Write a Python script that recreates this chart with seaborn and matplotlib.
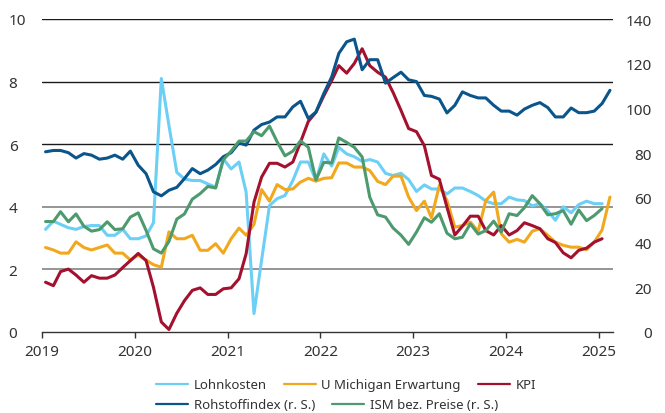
import numpy as np
import pandas as pd
import matplotlib
matplotlib.use("Agg")
import matplotlib.pyplot as plt
import matplotlib.dates as mdates
from matplotlib.lines import Line2D
import seaborn as sns

# ---- data (monthly, Jan 2019 onwards) ----
lohnkosten = [3.28, 3.54, 3.44, 3.33, 3.28, 3.37, 3.4, 3.4, 3.09, 3.09, 3.28, 2.98, 2.98, 3.07, 3.49,
              8.1, 6.6, 5.1,
              4.89, 4.84, 4.84, 4.73, 4.63, 5.53, 5.21, 5.43, 4.47, 0.59, 2.3, 4.04, 4.26, 4.36, 4.84, 5.43,
              5.43, 4.84, 5.69, 5.3,
              5.9, 5.69, 5.6, 5.45, 5.51, 5.43, 5.07, 5.0, 5.07, 4.87, 4.49, 4.7, 4.57, 4.57, 4.41, 4.6,
              4.6, 4.49, 4.36,
              4.18, 4.1, 4.1, 4.31, 4.22, 4.2, 4.03, 4.1, 3.87, 3.57, 4.0, 3.81, 4.07, 4.18, 4.1, 4.1]
michigan = [2.7, 2.62, 2.52, 2.52, 2.88, 2.7, 2.62, 2.7, 2.78, 2.52, 2.52, 2.3, 2.45, 2.3, 2.15, 2.07, 3.2, 2.98,
            2.98, 3.09, 2.61, 2.61, 2.82, 2.52, 2.98, 3.32, 3.09, 3.44, 4.55, 4.18, 4.71, 4.55, 4.57, 4.79,
            4.91, 4.82, 4.91,
            4.93, 5.4, 5.4, 5.27, 5.27, 5.16, 4.81, 4.71, 4.98, 4.98, 4.31, 3.88, 4.18, 3.65, 4.68, 4.2,
            3.35, 3.4, 3.51, 3.22,
            4.2, 4.47, 3.14, 2.87, 2.96, 2.87, 3.22, 3.3, 3.09, 2.87, 2.77, 2.71, 2.71, 2.63, 2.87, 3.26, 4.31]
kpi = [1.59, 1.48, 1.93, 2.01, 1.82, 1.59, 1.8, 1.72, 1.72, 1.82, 2.06, 2.28, 2.51, 2.28, 1.43, 0.32, 0.08, 0.6,
       1.0, 1.33, 1.41, 1.2, 1.2, 1.38, 1.41, 1.7, 2.5, 4.15, 4.95, 5.39, 5.39, 5.27, 5.43, 6.06, 6.73, 7.02,
       7.55, 8.03,
       8.51, 8.27, 8.58, 9.05, 8.51, 8.3, 8.14, 7.65, 7.08, 6.5, 6.4, 5.95, 5.0, 4.88, 3.99, 3.1, 3.38, 3.7, 3.7,
       3.24, 3.1, 3.4, 3.1, 3.24, 3.49, 3.4, 3.3, 2.98, 2.86, 2.53, 2.37, 2.61, 2.68, 2.87, 2.98]
rohstoffindex = [80.6, 81.2, 81.2, 80.2, 77.8, 79.8, 79.1, 77.3, 77.8, 79.1,
                 77.3, 80.9, 74.6, 70.8, 62.7, 60.9, 63.4, 64.7, 68.6, 73.1,
                 70.8, 72.4, 74.9, 78.4, 80.2, 84.6, 83.6, 90.3, 92.8, 93.9,
                 96.2, 96.2, 100.7, 103.2, 95.5, 98.4, 106.7,
                 114.1, 124.6, 129.8, 131.0, 117.3, 121.8, 121.8, 111.3, 113.8, 116.2,
                 112.8, 112.0, 105.8, 105.4, 104.2, 98.0, 101.4, 107.4, 105.8, 104.7,
                 104.7, 101.4, 98.8, 98.8, 97.0, 99.7, 101.4, 102.6, 100.4, 96.2,
                 96.2, 100.2, 98.1, 98.1, 98.8, 102.2, 108.1]
ism_preise = [49.4, 49.4, 53.8, 49.3, 52.8, 47.3, 45.1, 45.8, 49.3, 45.8, 46.2, 51.4, 53.3, 45.4, 37.2, 35.3,
              40.5, 50.5, 52.8,
              59.4, 61.9, 65.1, 64.4, 77.0, 80.9, 85.4, 85.4, 89.6, 87.8, 92.1, 85.1, 78.8, 80.9, 85.5, 82.6,
              68.0, 75.9, 75.6,
              86.8, 84.8, 82.6, 78.3, 60.3, 52.4, 51.4, 46.5, 43.3, 39.2, 44.7, 51.1, 49.1, 52.9, 44.2, 41.7,
              42.4, 48.4, 43.8,
              45.4, 49.6, 44.7, 52.9, 52.1, 55.6, 61.0, 57.4, 52.4, 52.9, 54.3, 48.2, 54.6, 49.8, 52.1, 55.2]

left_ticks = [0, 2, 4, 6, 8, 10]
right_ticks = [0, 20, 40, 60, 80, 100, 120, 140]
year_labels = ["2019", "2020", "2021", "2022", "2023", "2024", "2025"]

labels = ["Lohnkosten", "U Michigan Erwartung", "KPI", "Rohstoffindex (r. S.)", "ISM bez. Preise (r. S.)"]
colors = ["#6CCFF6", "#F2A81D", "#A3112E", "#0A558C", "#4C9A6E"]

dates = pd.date_range("2019-01-01", periods=80, freq="MS") + pd.Timedelta(days=14)

sns.set_theme(style="white")
plt.rcParams["font.family"] = ["Noto Sans", "DejaVu Sans"]

W, H = 665, 414
fig = plt.figure(figsize=(W / 100, H / 100), dpi=100)
ax = fig.add_axes([42 / W, 1 - 333 / H, (613 - 42) / W, (333 - 20) / H])
ax2 = ax.twinx()

lw = 2.2
left_series = [lohnkosten, michigan, kpi]
right_series = [rohstoffindex, ism_preise]
for vals, c in zip(left_series, colors[:3]):
    sns.lineplot(x=dates[:len(vals)], y=vals, ax=ax, color=c, linewidth=lw)
for vals, c in zip(right_series, colors[3:]):
    sns.lineplot(x=dates[:len(vals)], y=vals, ax=ax2, color=c, linewidth=lw)

ax.set_ylim(0, 10)
ax2.set_ylim(0, 140)
ax.set_xlim(pd.Timestamp("2019-01-01"), pd.Timestamp("2025-02-27"))

# y axes
ax.set_yticks(left_ticks)
ax.set_yticklabels([str(t) for t in left_ticks])
ax2.set_yticks(right_ticks)
ax2.set_yticklabels([str(t) for t in right_ticks])
ax.tick_params(axis="y", length=0, pad=24, labelsize=11, labelcolor="#333333")
ax2.tick_params(axis="y", length=0, pad=28, labelsize=11, labelcolor="#333333")
for lbl in ax.get_yticklabels():
    lbl.set_horizontalalignment("left")
for lbl in ax2.get_yticklabels():
    lbl.set_horizontalalignment("right")

# gridlines from left axis
ax.yaxis.grid(True)
ax2.yaxis.grid(False)
ax.xaxis.grid(False)
ax.set_axisbelow(True)
for t, gl in zip(left_ticks, ax.get_ygridlines()):
    if t == 0:
        gl.set_visible(False)
    elif t >= 6:
        gl.set_color("#1a1a1a")
        gl.set_linewidth(1.0)
    else:
        gl.set_color("#8c8c8c")
        gl.set_linewidth(1.3)

# x axis
ax.xaxis.set_major_locator(mdates.YearLocator())
ax.xaxis.set_major_formatter(mdates.DateFormatter("%Y"))
ax.tick_params(axis="x", direction="out", length=4, width=1, color="#333333",
               pad=5, labelsize=11, labelcolor="#333333", bottom=True)

for a in (ax, ax2):
    for s in ("left", "right", "top"):
        a.spines[s].set_visible(False)
    a.set_xlabel("")
    a.set_ylabel("")
ax.spines["bottom"].set_color("#333333")
ax.spines["bottom"].set_linewidth(1.0)
ax2.spines["bottom"].set_visible(False)

# legend: two rows in flow layout
handles = [Line2D([0], [0], color=c, lw=1.6) for c in colors]
common = dict(frameon=False, fontsize=9.5, handlelength=2.4, handletextpad=0.45,
              columnspacing=1.3, borderpad=0, borderaxespad=0, labelcolor="#333333")
leg1 = fig.legend(handles[:3], labels[:3], loc="center left",
                  bbox_to_anchor=(156 / W, 1 - 386 / H), ncol=3, **common)
leg2 = fig.legend(handles[3:], labels[3:], loc="center left",
                  bbox_to_anchor=(156 / W, 1 - 406 / H), ncol=2, **common)

fig.savefig("out.png", dpi=100)
